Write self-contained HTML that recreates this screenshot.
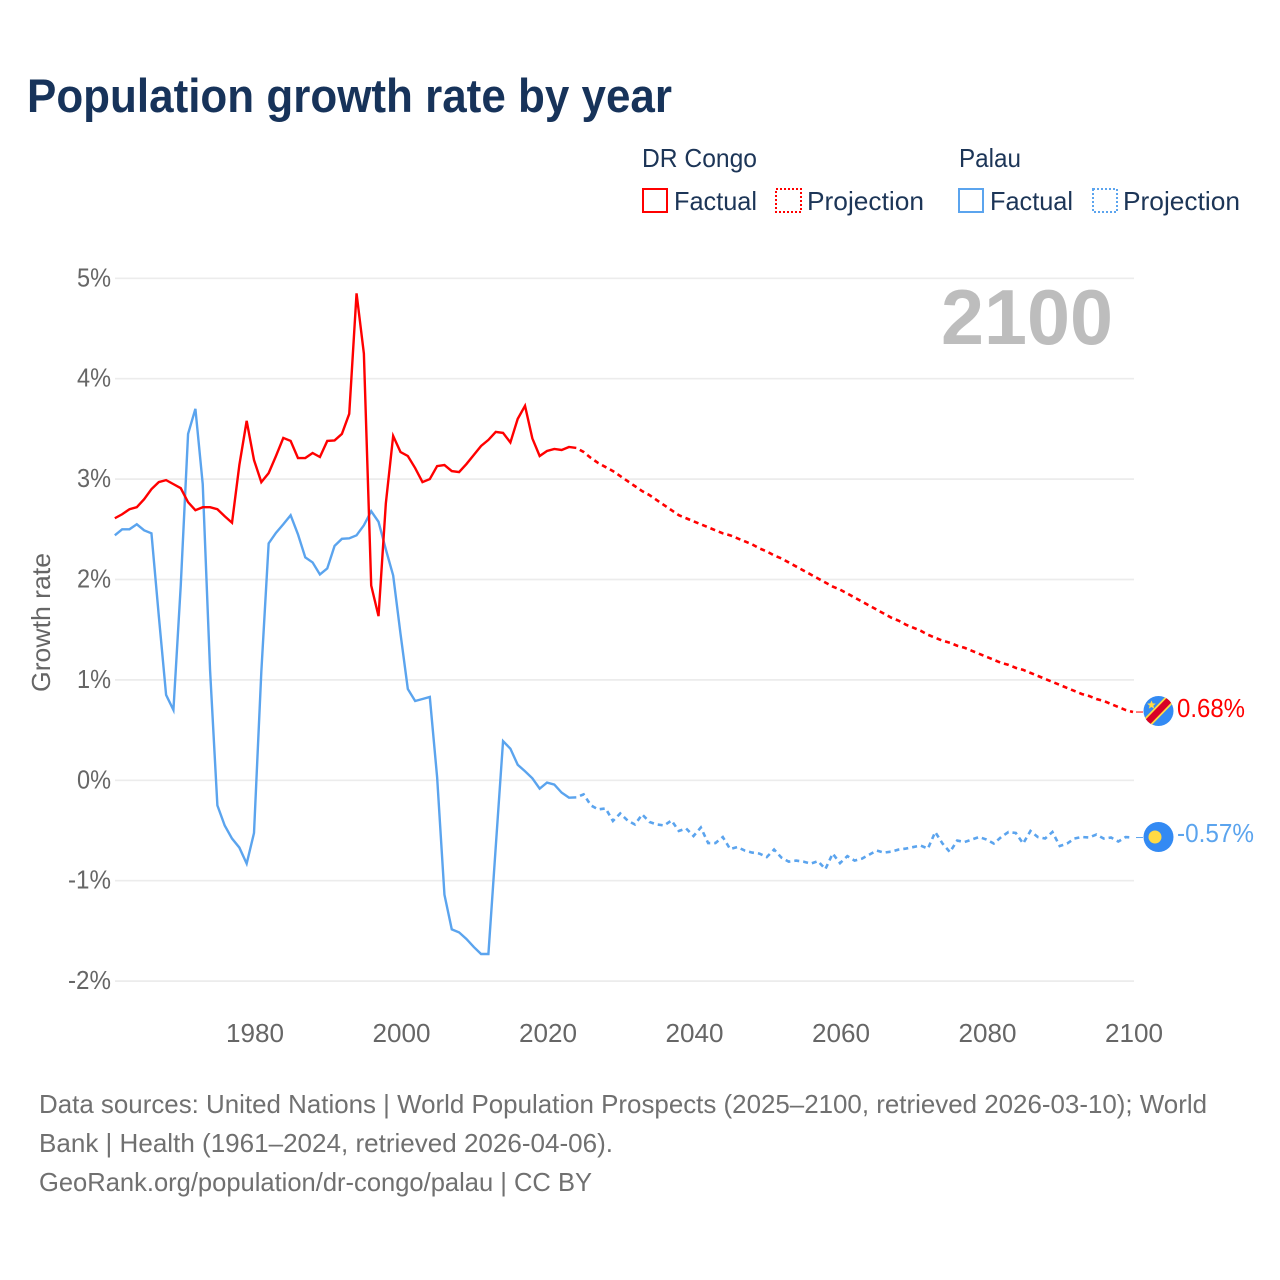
<!DOCTYPE html>
<html lang="en">
<head>
<meta charset="utf-8">
<title>Population growth rate by year</title>
<style>
html,body{margin:0;padding:0;background:#fff;width:1280px;height:1280px;overflow:hidden}
svg{display:block;font-family:"Liberation Sans",sans-serif}
</style>
</head>
<body>
<svg id="chart" xmlns="http://www.w3.org/2000/svg" width="1280" height="1280" viewBox="0 0 1280 1280">
  <defs>
    <clipPath id="flag-clip-drc"><circle cx="1158.5" cy="711" r="15"/></clipPath>
  </defs>
  <rect width="1280" height="1280" fill="#fff"/>
  <text x="27" y="112" font-size="47" font-weight="700" fill="#17335a" textLength="645" lengthAdjust="spacingAndGlyphs">Population growth rate by year</text>

  <g font-size="26" fill="#1c3557">
    <text x="642" y="167" textLength="115" lengthAdjust="spacingAndGlyphs">DR Congo</text>
    <text x="959" y="167" textLength="62" lengthAdjust="spacingAndGlyphs">Palau</text>
    <g>
      <rect x="643" y="189" width="24" height="23" fill="none" stroke="#ff0000" stroke-width="2"/>
      <text x="674" y="210" textLength="83" lengthAdjust="spacingAndGlyphs">Factual</text>
    </g>
    <g>
      <rect x="776" y="189" width="25" height="23" fill="none" stroke="#ff0000" stroke-width="2" stroke-dasharray="2 2"/>
      <text x="807" y="210" textLength="117" lengthAdjust="spacingAndGlyphs">Projection</text>
    </g>
    <g>
      <rect x="959" y="189" width="24" height="23" fill="none" stroke="#5ba4ee" stroke-width="2"/>
      <text x="990" y="210" textLength="83" lengthAdjust="spacingAndGlyphs">Factual</text>
    </g>
    <g>
      <rect x="1093" y="189" width="24" height="23" fill="none" stroke="#5ba4ee" stroke-width="2" stroke-dasharray="2 2"/>
      <text x="1123" y="210" textLength="117" lengthAdjust="spacingAndGlyphs">Projection</text>
    </g>
  </g>

  <g id="grid"></g>
  <g id="yticks" font-size="26" fill="#666"></g>
  <g id="xticks" font-size="26" fill="#666"></g>
  <text transform="translate(50 622.5) rotate(-90)" text-anchor="middle" font-size="26" fill="#666" textLength="139" lengthAdjust="spacingAndGlyphs">Growth rate</text>
  <text x="941" y="344" font-size="78" font-weight="700" fill="#bdbdbd" textLength="172" lengthAdjust="spacingAndGlyphs">2100</text>

  <g id="series"></g>

  <g>
    <circle cx="1158.5" cy="711" r="15" fill="#338af3"/>
    <g clip-path="url(#flag-clip-drc)">
      <line x1="1140" y1="730" x2="1177" y2="692" stroke="#ffda44" stroke-width="10"/>
      <line x1="1140" y1="730" x2="1177" y2="692" stroke="#d80027" stroke-width="6.5"/>
    </g>
    <polygon points="1151.5,700.5 1152.7,703.4 1155.8,703.6 1153.4,705.6 1154.2,708.6 1151.5,707 1148.8,708.6 1149.6,705.6 1147.2,703.6 1150.3,703.4" fill="#ffda44"/>
  </g>
  <g>
    <circle cx="1158.5" cy="837" r="15" fill="#338af3"/>
    <circle cx="1155" cy="837" r="6.5" fill="#ffda44"/>
  </g>
  <text id="label-drc" x="1177" y="717" font-size="26" fill="#ff0000" textLength="68" lengthAdjust="spacingAndGlyphs"></text>
  <text id="label-palau" x="1177" y="842" font-size="26" fill="#5ba4ee" textLength="77" lengthAdjust="spacingAndGlyphs"></text>

  <g font-size="26" fill="#707070">
    <text x="39" y="1113" textLength="1168" lengthAdjust="spacingAndGlyphs">Data sources: United Nations | World Population Prospects (2025–2100, retrieved 2026-03-10); World</text>
    <text x="39" y="1152" textLength="574" lengthAdjust="spacingAndGlyphs">Bank | Health (1961–2024, retrieved 2026-04-06).</text>
    <text x="39" y="1191" textLength="553" lengthAdjust="spacingAndGlyphs">GeoRank.org/population/dr-congo/palau | CC BY</text>
  </g>
</svg>
<script>
const factualStartYear = 1961;
const projectionStartYear = 2025;
const yTickValues = [5, 4, 3, 2, 1, 0, -1, -2];
const xTickYears = [1980, 2000, 2020, 2040, 2060, 2080, 2100];

const drcFactual = [2.61,2.65,2.70,2.72,2.80,2.90,2.97,2.99,2.95,2.91,2.77,2.69,2.72,2.72,2.70,2.63,2.565,3.14,3.58,3.19,2.97,3.06,3.23,3.41,3.38,3.21,3.21,3.26,3.22,3.38,3.385,3.45,3.65,4.85,4.25,1.94,1.635,2.76,3.43,3.27,3.23,3.11,2.97,3.00,3.13,3.14,3.08,3.07,3.15,3.24,3.33,3.39,3.47,3.46,3.365,3.60,3.73,3.405,3.23,3.28,3.30,3.29,3.32,3.31];
const drcProjection = [3.27,3.21,3.16,3.12,3.08,3.03,2.98,2.93,2.88,2.84,2.79,2.74,2.69,2.64,2.61,2.58,2.55,2.52,2.49,2.46,2.44,2.41,2.38,2.35,2.31,2.28,2.24,2.21,2.17,2.13,2.09,2.05,2.01,1.97,1.93,1.90,1.86,1.82,1.78,1.74,1.70,1.66,1.62,1.59,1.55,1.52,1.49,1.45,1.42,1.39,1.37,1.34,1.32,1.29,1.26,1.23,1.20,1.17,1.15,1.12,1.10,1.07,1.04,1.01,0.98,0.95,0.92,0.89,0.86,0.84,0.81,0.79,0.76,0.73,0.70,0.68];
const palauFactual = [2.44,2.50,2.50,2.55,2.49,2.46,1.64,0.85,0.70,1.94,3.45,3.70,2.95,1.10,-0.25,-0.45,-0.58,-0.67,-0.83,-0.525,1.08,2.36,2.465,2.55,2.64,2.45,2.22,2.17,2.05,2.11,2.335,2.405,2.41,2.44,2.54,2.68,2.575,2.30,2.04,1.46,0.91,0.79,0.81,0.83,0.03,-1.14,-1.485,-1.515,-1.58,-1.66,-1.73,-1.73,-0.665,0.39,0.315,0.155,0.09,0.02,-0.083,-0.023,-0.043,-0.123,-0.173,-0.17];
const palauProjection = [-0.14,-0.25,-0.29,-0.28,-0.405,-0.33,-0.40,-0.44,-0.34,-0.415,-0.44,-0.45,-0.40,-0.505,-0.48,-0.555,-0.47,-0.625,-0.625,-0.565,-0.685,-0.665,-0.70,-0.72,-0.73,-0.765,-0.69,-0.77,-0.81,-0.80,-0.81,-0.83,-0.805,-0.885,-0.73,-0.825,-0.755,-0.80,-0.78,-0.74,-0.70,-0.72,-0.71,-0.69,-0.68,-0.665,-0.65,-0.68,-0.515,-0.63,-0.715,-0.60,-0.615,-0.59,-0.565,-0.59,-0.63,-0.565,-0.515,-0.525,-0.63,-0.505,-0.565,-0.58,-0.515,-0.655,-0.63,-0.58,-0.565,-0.57,-0.54,-0.58,-0.57,-0.61,-0.565,-0.57];

const SVGNS = 'http://www.w3.org/2000/svg';
function xScale(year) { return 1133 - (2100 - year) * 7.325; }
function yScale(value) { return 780.3 - value * 100.4; }
function buildPath(values, startYear, prefix) {
  let d = prefix || '';
  values.forEach(function (v, i) {
    d += (d ? 'L' : 'M') + xScale(startYear + i).toFixed(2) + ' ' + yScale(v).toFixed(2);
  });
  return d;
}
function make(tag, attrs, parent, text) {
  const el = document.createElementNS(SVGNS, tag);
  Object.keys(attrs).forEach(function (k) { el.setAttribute(k, attrs[k]); });
  if (text !== undefined) el.textContent = text;
  parent.appendChild(el);
  return el;
}

const gridGroup = document.getElementById('grid');
const yTickGroup = document.getElementById('yticks');
yTickValues.forEach(function (v) {
  const line = make('line', { x1: 115, x2: 1134, y1: yScale(v), y2: yScale(v), stroke: '#ececec', 'stroke-width': 1.7 }, gridGroup);
  
  
  const label = v + '%';
  const tick = make('text', { x: 111, y: yScale(v) + 8, 'text-anchor': 'end', textLength: 34 + (label.length - 2) * 9, lengthAdjust: 'spacingAndGlyphs' }, yTickGroup, label);
  
  
});

const xTickGroup = document.getElementById('xticks');
xTickYears.forEach(function (year) {
  const tick = make('text', { x: xScale(year) + 1, y: 1042, 'text-anchor': 'middle', textLength: 58, lengthAdjust: 'spacingAndGlyphs' }, xTickGroup, String(year));
  
  
});

const seriesGroup = document.getElementById('series');
const palauFactualLine = make('path', { d: buildPath(palauFactual, factualStartYear), fill: 'none', stroke: '#5ba4ee', 'stroke-width': 2.4, 'stroke-linejoin': 'miter' }, seriesGroup);



const palauLast = palauFactual[palauFactual.length - 1];
const palauProjectionLine = make('path', { d: buildPath(palauProjection, projectionStartYear, 'M' + xScale(projectionStartYear - 1) + ' ' + yScale(palauLast)), fill: 'none', stroke: '#5ba4ee', 'stroke-width': 2.6, 'stroke-dasharray': '5 4', 'stroke-dashoffset': 5 }, seriesGroup);



const drcFactualLine = make('path', { d: buildPath(drcFactual, factualStartYear), fill: 'none', stroke: '#ff0000', 'stroke-width': 2.4 }, seriesGroup);



const drcLast = drcFactual[drcFactual.length - 1];
const drcProjectionLine = make('path', { d: buildPath(drcProjection, projectionStartYear, 'M' + xScale(projectionStartYear - 1) + ' ' + yScale(drcLast)), fill: 'none', stroke: '#ff0000', 'stroke-width': 2.6, 'stroke-dasharray': '5 4', 'stroke-dashoffset': 5 }, seriesGroup);



const drcEnd = drcProjection[drcProjection.length - 1];
const palauEnd = palauProjection[palauProjection.length - 1];
const drcConnector = make('line', { x1: 1136, x2: 1143, y1: yScale(drcEnd), y2: yScale(drcEnd), stroke: '#ff0000', 'stroke-width': 1 }, seriesGroup);


const palauConnector = make('line', { x1: 1136, x2: 1143, y1: yScale(palauEnd), y2: yScale(palauEnd), stroke: '#5ba4ee', 'stroke-width': 1 }, seriesGroup);



document.getElementById('label-drc').textContent = drcEnd.toFixed(2) + '%';
document.getElementById('label-palau').textContent = palauEnd.toFixed(2) + '%';
</script>
</body>
</html>
